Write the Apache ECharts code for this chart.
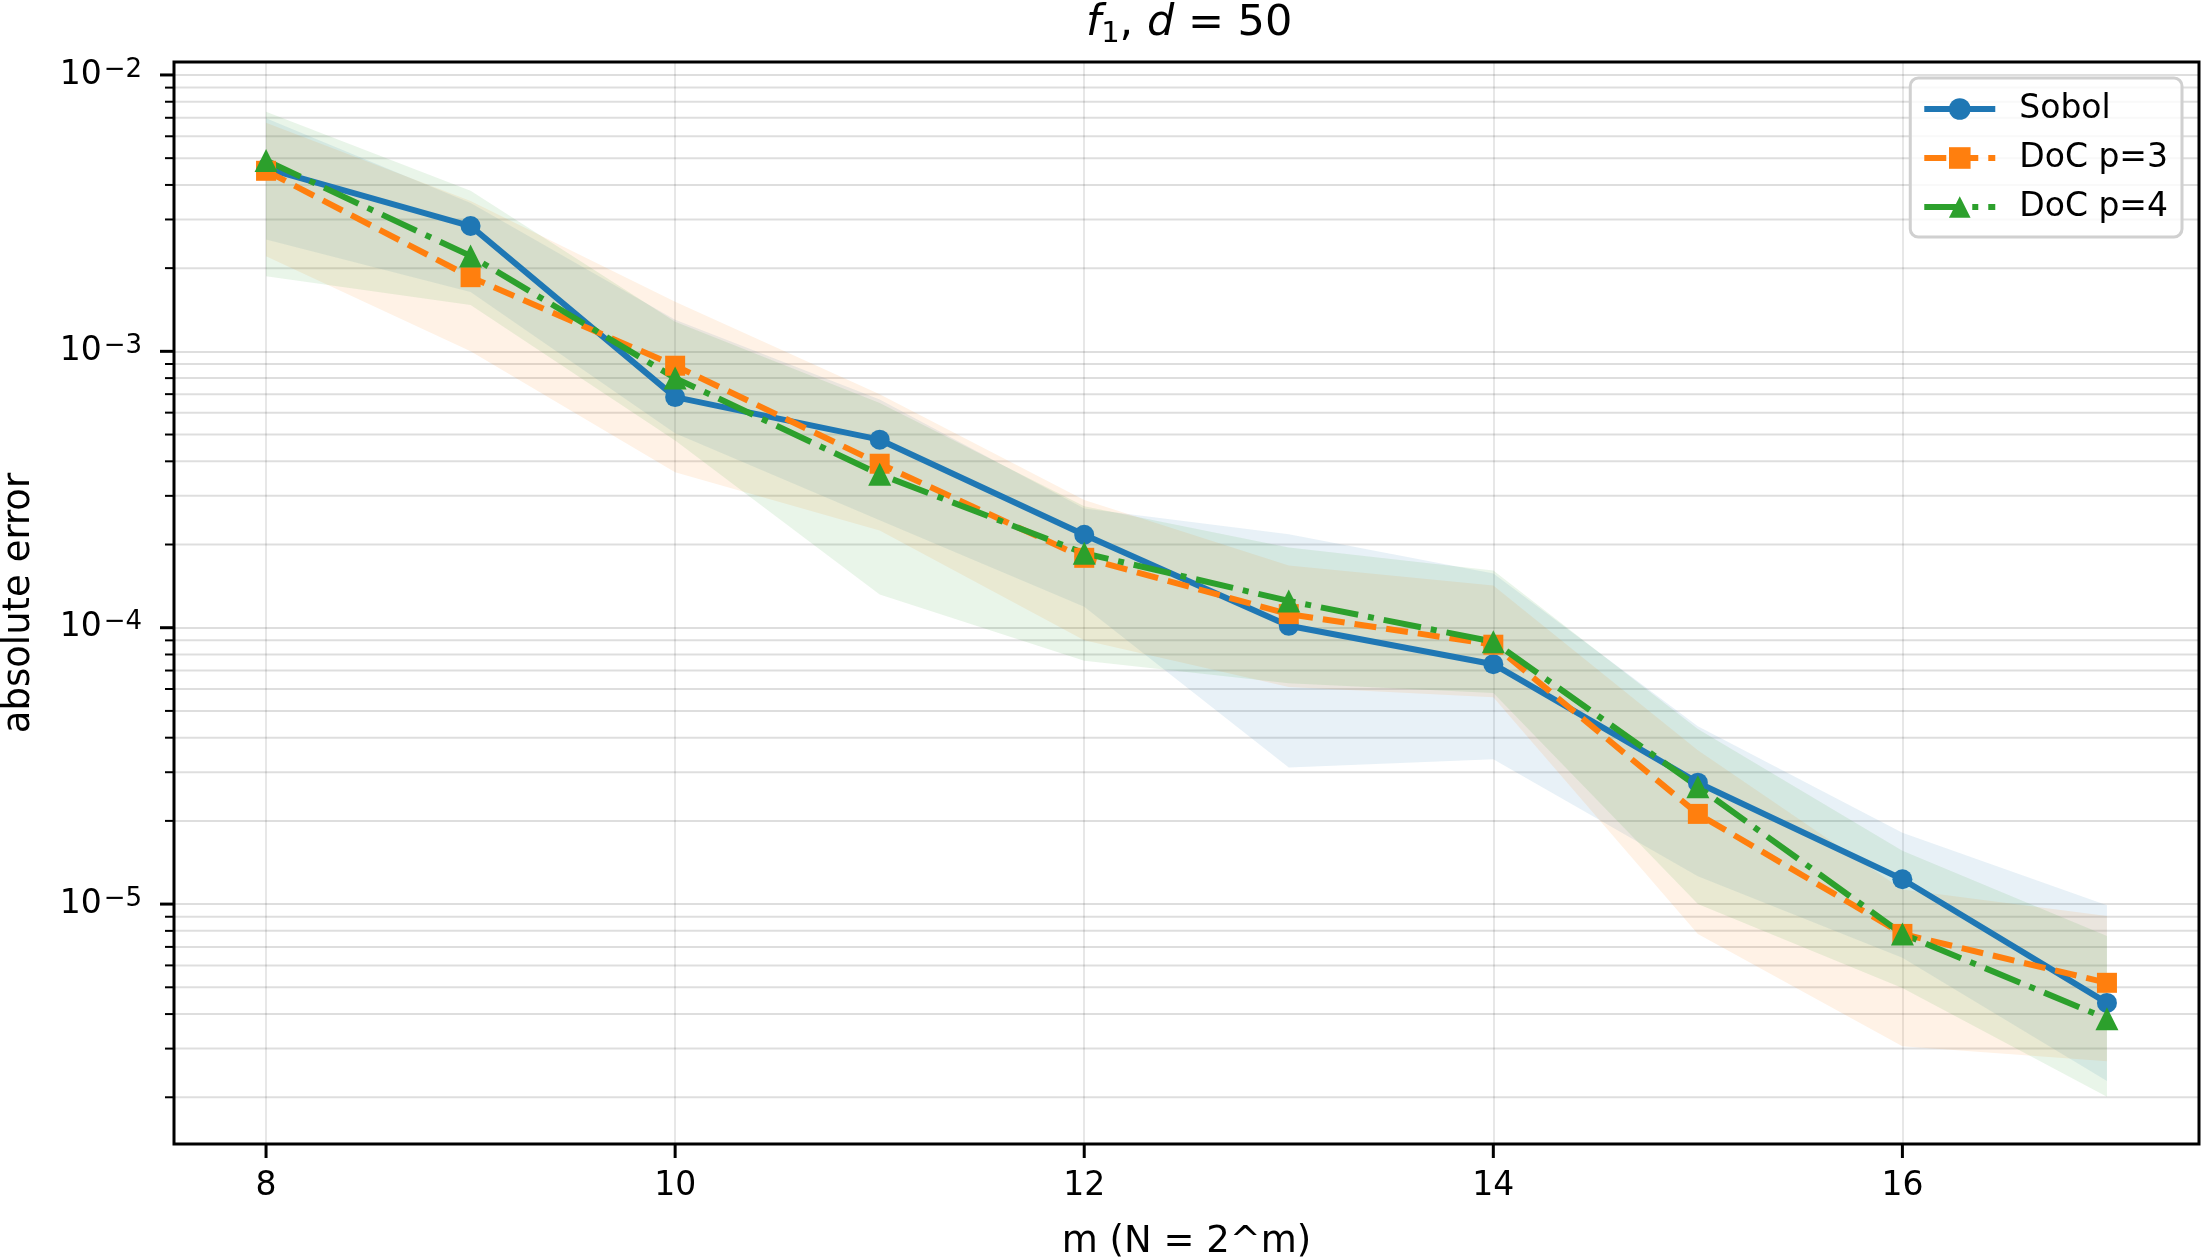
<!DOCTYPE html>
<html>
<head>
<meta charset="utf-8">
<script src="https://cdn.jsdelivr.net/npm/echarts@6/dist/echarts.min.js"></script>
<style>
html, body { margin: 0; padding: 0; background: #fff; }
#chart { width: 2202px; height: 1260px; }
</style>
</head>
<body>
<div id="chart"></div>
<script>
// m values (N = 2^m)
const mValues = [8, 9, 10, 11, 12, 13, 14, 15, 16, 17];

// Sobol
const sobolMean  = [4.59e-3, 2.84e-3, 6.83e-4, 4.79e-4, 2.17e-4, 1.016e-4, 7.38e-5, 2.75e-5, 1.23e-5, 4.39e-6];
const sobolUpper = [6.97e-3, 3.44e-3, 1.30e-3, 6.7e-4, 2.7e-4, 2.18e-4, 1.57e-4, 4.4e-5, 1.81e-5, 9.9e-6];
const sobolLower = [2.54e-3, 1.64e-3, 5.05e-4, 2.45e-4, 1.19e-4, 3.12e-5, 3.34e-5, 1.26e-5, 6.4e-6, 2.29e-6];

// DoC p=3
const doc3Mean  = [4.50e-3, 1.855e-3, 8.87e-4, 3.92e-4, 1.79e-4, 1.12e-4, 8.68e-5, 2.12e-5, 7.8e-6, 5.19e-6];
const doc3Upper = [6.72e-3, 3.5e-3, 1.51e-3, 7.0e-4, 2.9e-4, 1.68e-4, 1.42e-4, 3.6e-5, 1.13e-5, 9.06e-6];
const doc3Lower = [2.21e-3, 1.0e-3, 3.65e-4, 2.25e-4, 9.0e-5, 6.1e-5, 5.6e-5, 7.8e-6, 3.06e-6, 2.70e-6];

// DoC p=4
const doc4Mean  = [4.90e-3, 2.215e-3, 8.0e-4, 3.59e-4, 1.86e-4, 1.25e-4, 8.9e-5, 2.66e-5, 7.8e-6, 3.85e-6];
const doc4Upper = [7.36e-3, 3.81e-3, 1.28e-3, 6.5e-4, 2.75e-4, 1.95e-4, 1.61e-4, 4.3e-5, 1.56e-5, 7.66e-6];
const doc4Lower = [1.87e-3, 1.47e-3, 4.76e-4, 1.32e-4, 7.6e-5, 6.3e-5, 5.8e-5, 1.0e-5, 4.97e-6, 2.01e-6];

// ticks
const xTicks = [8, 10, 12, 14, 16];
const yMajorTicks = [1e-5, 1e-4, 1e-3, 1e-2];
const yMinorTicks = [
    2e-6, 3e-6, 4e-6, 5e-6, 6e-6, 7e-6, 8e-6, 9e-6,
    2e-5, 3e-5, 4e-5, 5e-5, 6e-5, 7e-5, 8e-5, 9e-5,
    2e-4, 3e-4, 4e-4, 5e-4, 6e-4, 7e-4, 8e-4, 9e-4,
    2e-3, 3e-3, 4e-3, 5e-3, 6e-3, 7e-3, 8e-3, 9e-3
];

const FONT = 'DejaVu Sans';
const BLUE = '#1f77b4', ORANGE = '#ff7f0e', GREEN = '#2ca02c';
const GRID_COLOR = 'rgba(0,0,0,0.13)';

const chart = echarts.init(document.getElementById('chart'));

function pairs(ys) {
    return mValues.map(function (m, i) { return [m, ys[i]]; });
}

// shaded band between lower and upper
function bandSeries(upper, lower, fill) {
    return {
        type: 'custom',
        silent: true,
        z: 2,
        data: [[mValues[0], upper[0]]],
        renderItem: function (params, api) {
            let pts = [];
            for (let i = 0; i < mValues.length; i++) {
                pts.push(api.coord([mValues[i], upper[i]]));
            }
            for (let i = mValues.length - 1; i >= 0; i--) {
                pts.push(api.coord([mValues[i], lower[i]]));
            }
            return { type: 'polygon', shape: { points: pts }, style: { fill: fill } };
        }
    };
}

// minor grid lines + all tick marks (matplotlib style)
const tickSeries = {
    type: 'custom',
    silent: true,
    z: 1,
    data: [[mValues[0], yMajorTicks[1]]],
    renderItem: function (params, api) {
        const cs = params.coordSys;
        const bottom = cs.y + cs.height;
        let children = [];
        yMinorTicks.forEach(function (v) {
            const y = api.coord([mValues[0], v])[1];
            children.push({ type: 'line', shape: { x1: cs.x, y1: y, x2: cs.x + cs.width, y2: y },
                style: { stroke: GRID_COLOR, lineWidth: 2 } });
            children.push({ type: 'line', shape: { x1: cs.x - 9, y1: y, x2: cs.x, y2: y },
                style: { stroke: '#000', lineWidth: 2 } });
        });
        yMajorTicks.forEach(function (v) {
            const y = api.coord([mValues[0], v])[1];
            children.push({ type: 'line', shape: { x1: cs.x - 14, y1: y, x2: cs.x, y2: y },
                style: { stroke: '#000', lineWidth: 3 } });
        });
        xTicks.forEach(function (m) {
            const x = api.coord([m, yMajorTicks[1]])[0];
            children.push({ type: 'line', shape: { x1: x, y1: bottom, x2: x, y2: bottom + 14 },
                style: { stroke: '#000', lineWidth: 3 } });
        });
        return { type: 'group', children: children };
    }
};

const option = {
    animation: false,
    backgroundColor: '#fff',
    title: {
        text: '{i|f}{sub|1}{n|, }{i|d}{n| = 50}',
        left: 1081,
        top: -6,
        textStyle: {
            fontWeight: 'normal',
            rich: {
                i: { fontFamily: FONT, fontStyle: 'italic', fontWeight: 'normal', fontSize: 43, lineHeight: 50, color: '#000' },
                n: { fontFamily: FONT, fontWeight: 'normal', fontSize: 43, lineHeight: 50, color: '#000' },
                sub: { fontFamily: FONT, fontWeight: 'normal', fontSize: 29, lineHeight: 26, verticalAlign: 'bottom', color: '#000' }
            }
        }
    },
    grid: {
        left: 174,
        right: 3,
        top: 62,
        bottom: 116,
        outerBoundsMode: 'none',
        containLabel: false,
        show: true,
        borderColor: '#000',
        borderWidth: 3,
        backgroundColor: 'transparent'
    },
    legend: {
        data: ['Sobol', 'DoC p=3', 'DoC p=4'],
        orient: 'vertical',
        right: 20,
        top: 78,
        itemWidth: 71,
        itemHeight: 27,
        itemGap: 15,
        padding: [14, 14, 13, 11],
        backgroundColor: 'rgba(255,255,255,0.8)',
        borderColor: '#d0d0d0',
        borderWidth: 3,
        borderRadius: 8,
        lineStyle: { width: 6 },
        textStyle: { fontFamily: FONT, fontSize: 33, color: '#000', lineHeight: 34, padding: [0, 0, 0, 19] }
    },
    xAxis: {
        type: 'value',
        min: 7.55,
        max: 17.45,
        axisLine: { show: false },
        axisTick: { show: false },
        axisLabel: { showMinLabel: false, showMaxLabel: false, fontFamily: FONT, fontSize: 33, color: '#000', margin: 26 },
        splitLine: { show: true, lineStyle: { color: GRID_COLOR, width: 1.5 } },
        name: 'm (N = 2^m)',
        nameLocation: 'middle',
        nameGap: 80,
        nameTextStyle: { fontFamily: FONT, fontSize: 37, color: '#000' }
    },
    yAxis: {
        type: 'log',
        logBase: 10,
        min: 1.355e-6,
        max: 0.01114,
        axisLine: { show: false },
        axisTick: { show: false },
        axisLabel: {
            showMinLabel: false,
            showMaxLabel: false,
            margin: 32,
            formatter: function (v) {
                const e = Math.round(Math.log10(v));
                return '{b|10}{s|\u2212' + Math.abs(e) + '}';
            },
            rich: {
                b: { fontFamily: FONT, fontSize: 33, lineHeight: 36, color: '#000' },
                s: { fontFamily: FONT, fontSize: 26, lineHeight: 24, verticalAlign: 'top', padding: [0, 0, 0, 2], color: '#000' }
            }
        },
        splitLine: { show: true, lineStyle: { color: GRID_COLOR, width: 2 } },
        name: 'absolute error',
        nameLocation: 'middle',
        nameGap: 136,
        nameTextStyle: { fontFamily: FONT, fontSize: 37, color: '#000' }
    },
    series: [
        tickSeries,
        bandSeries(sobolUpper, sobolLower, 'rgba(31,119,180,0.1)'),
        bandSeries(doc3Upper, doc3Lower, 'rgba(255,127,14,0.1)'),
        bandSeries(doc4Upper, doc4Lower, 'rgba(44,160,44,0.1)'),
        {
            name: 'Sobol',
            type: 'line',
            z: 3,
            data: pairs(sobolMean),
            symbol: 'circle',
            symbolSize: 20,
            showAllSymbol: true,
            itemStyle: { color: BLUE },
            lineStyle: { color: BLUE, width: 6, type: 'solid' }
        },
        {
            name: 'DoC p=3',
            type: 'line',
            z: 3,
            data: pairs(doc3Mean),
            symbol: 'rect',
            symbolSize: 20,
            showAllSymbol: true,
            itemStyle: { color: ORANGE },
            lineStyle: { color: ORANGE, width: 6, type: [22, 10] }
        },
        {
            name: 'DoC p=4',
            type: 'line',
            z: 3,
            data: pairs(doc4Mean),
            symbol: 'triangle',
            symbolSize: 23,
            showAllSymbol: true,
            itemStyle: { color: GREEN },
            lineStyle: { color: GREEN, width: 6, type: [38, 10, 6, 10] }
        }
    ]
};

chart.setOption(option);
</script>
</body>
</html>
